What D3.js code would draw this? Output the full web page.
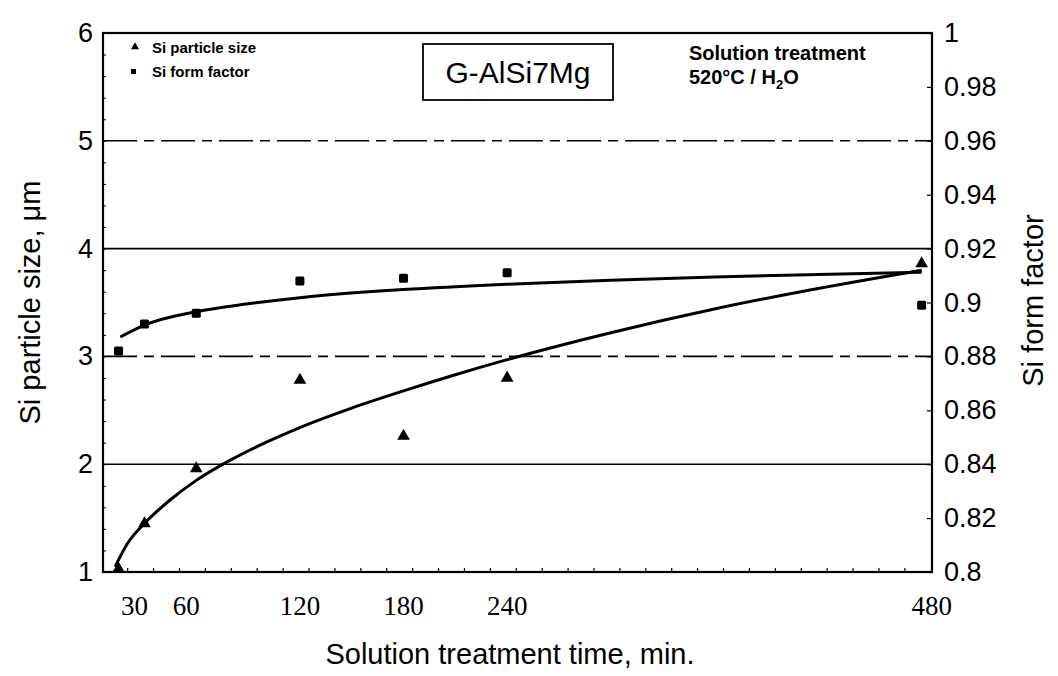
<!DOCTYPE html>
<html>
<head>
<meta charset="utf-8">
<script src="https://cdn.jsdelivr.net/npm/d3@7"></script>
<style>
  body { margin: 0; background: #fff; }
  svg { display: block; }
</style>
</head>
<body>
<div id="chart"></div>
<script>
// measured points
const sizeTimes = [15, 30, 60, 120, 180, 240, 480];
const sizeValues = [1.03, 1.45, 1.96, 2.78, 2.26, 2.8, 3.86];
const formTimes = [15, 30, 60, 120, 180, 240, 480];
const formValues = [0.882, 0.892, 0.896, 0.908, 0.909, 0.911, 0.899];

// fitted trend curves
const sizeFitTimes = [13, 20, 30, 45, 60, 80, 100, 120, 150, 180, 210, 240, 300, 360, 420, 480];
const sizeFitValues = [1.05, 1.26, 1.45, 1.67, 1.85, 2.04, 2.20, 2.34, 2.52, 2.68, 2.83, 2.97, 3.22, 3.44, 3.63, 3.80];
const formFitTimes = [16, 30, 60, 90, 120, 180, 240, 300, 360, 420, 480];
const formFitValues = [0.8872, 0.8916, 0.8966, 0.8995, 0.9018, 0.9048, 0.9068, 0.9083, 0.9095, 0.9104, 0.9112];

const xTicks = [30, 60, 120, 180, 240, 480];
const leftTicks = [1, 2, 3, 4, 5, 6];
const rightTicks = [0.8, 0.82, 0.84, 0.86, 0.88, 0.9, 0.92, 0.94, 0.96, 0.98, 1];
const solidGrid = [2, 4];
const dashedGrid = [3, 5];

const width = 1058, height = 676;
const margin = { top: 33, right: 126, bottom: 104, left: 103 };
const sans = "'Liberation Sans', Arial, sans-serif";
const serif = "'Liberation Serif', 'Times New Roman', serif";

const svg = d3.select("#chart").append("svg")
  .attr("width", width)
  .attr("height", height);

const x = d3.scaleLinear().domain([6, 486]).range([margin.left, width - margin.right]);
const yL = d3.scaleLinear().domain([1, 6]).range([height - margin.bottom, margin.top]);
const yR = d3.scaleLinear().domain([0.8, 1]).range([height - margin.bottom, margin.top]);

const x0 = margin.left, x1 = width - margin.right;
const yTop = margin.top, yBot = height - margin.bottom;

// gridlines
svg.append("g").selectAll("line")
  .data(solidGrid)
  .join("line")
  .attr("x1", x0).attr("x2", x1)
  .attr("y1", d => yL(d)).attr("y2", d => yL(d))
  .attr("stroke", "#000").attr("stroke-width", 1.6);

svg.append("g").selectAll("line")
  .data(dashedGrid)
  .join("line")
  .attr("x1", x0).attr("x2", x1)
  .attr("y1", d => yL(d)).attr("y2", d => yL(d))
  .attr("stroke", "#000").attr("stroke-width", 1.6)
  .attr("stroke-dasharray", "34,7,10,7");

// minor ticks
svg.append("g")
  .attr("transform", `translate(${x0},0)`)
  .call(d3.axisRight(yL).ticks(25).tickSize(3).tickFormat(""))
  .call(g => g.select(".domain").remove())
  .call(g => g.selectAll("line").attr("stroke-width", 1));

svg.append("g")
  .attr("transform", `translate(${x1},0)`)
  .call(d3.axisLeft(yR).tickValues(rightTicks).tickSize(5).tickFormat(""))
  .call(g => g.select(".domain").remove())
  .call(g => g.selectAll("line").attr("stroke-width", 1.2));

svg.append("g")
  .attr("transform", `translate(0,${yBot})`)
  .call(d3.axisTop(x).tickValues(d3.range(20, 480, 15)).tickSize(4).tickFormat(""))
  .call(g => g.select(".domain").remove())
  .call(g => g.selectAll("line").attr("stroke-width", 1.2));

// frame
svg.append("rect")
  .attr("x", x0).attr("y", yTop)
  .attr("width", x1 - x0).attr("height", yBot - yTop)
  .attr("fill", "none").attr("stroke", "#000").attr("stroke-width", 2.2);

// tick labels
svg.append("g").selectAll("text")
  .data(leftTicks)
  .join("text")
  .attr("x", x0 - 10).attr("y", d => yL(d) + 9)
  .attr("text-anchor", "end")
  .style("font-family", sans).style("font-size", "27px")
  .text(d => d);

svg.append("g").selectAll("text")
  .data(rightTicks)
  .join("text")
  .attr("x", x1 + 12).attr("y", d => yR(d) + 9)
  .style("font-family", sans).style("font-size", "27px")
  .text(d => d3.format("~g")(d));

// label nudges follow the hand-lettered original
svg.append("g").selectAll("text")
  .data(xTicks)
  .join("text")
  .attr("x", d => x(d) + (d < 100 ? -10 : d > 300 ? 10 : 0)).attr("y", yBot + 43)
  .attr("text-anchor", "middle")
  .style("font-family", serif).style("font-size", "27px")
  .text(d => d);

// axis titles
svg.append("text")
  .attr("transform", `translate(40,${(yTop + yBot) / 2}) rotate(-90)`)
  .attr("text-anchor", "middle")
  .style("font-family", sans).style("font-size", "29px")
  .text("Si particle size, \u03bcm");

svg.append("text")
  .attr("transform", `translate(1043,${(yTop + yBot) / 2 - 2}) rotate(-90)`)
  .attr("text-anchor", "middle")
  .style("font-family", sans).style("font-size", "29px")
  .text("Si form factor");

svg.append("text")
  .attr("x", 510).attr("y", 664)
  .attr("text-anchor", "middle")
  .style("font-family", sans).style("font-size", "29px")
  .text("Solution treatment time, min.");

// trend curves
const line = d3.line().curve(d3.curveMonotoneX);

svg.append("path")
  .attr("d", line(sizeFitTimes.map((t, i) => [x(t), yL(sizeFitValues[i])])))
  .attr("fill", "none").attr("stroke", "#000").attr("stroke-width", 3);

svg.append("path")
  .attr("d", line(formFitTimes.map((t, i) => [x(t), yR(formFitValues[i])])))
  .attr("fill", "none").attr("stroke", "#000").attr("stroke-width", 3);

// markers
const tri = d3.symbol().type(d3.symbolTriangle);
svg.append("g").selectAll("path")
  .data(sizeTimes.map((t, i) => [t, sizeValues[i]]))
  .join("path")
  .attr("transform", d => `translate(${x(d[0])},${yL(d[1])})`)
  .attr("d", tri.size(70)())
  .attr("fill", "#000");

svg.append("g").selectAll("rect")
  .data(formTimes.map((t, i) => [t, formValues[i]]))
  .join("rect")
  .attr("x", d => x(d[0]) - 4.5).attr("y", d => yR(d[1]) - 4.5)
  .attr("width", 9).attr("height", 9)
  .attr("rx", 1.5)
  .attr("fill", "#000");

// legend
svg.append("path")
  .attr("transform", "translate(135,47)")
  .attr("d", tri.size(28)())
  .attr("fill", "#000");
svg.append("text")
  .attr("x", 152).attr("y", 53)
  .style("font-family", sans).style("font-size", "15px").style("font-weight", "bold")
  .text("Si particle size");

svg.append("rect")
  .attr("x", 131).attr("y", 69).attr("width", 5).attr("height", 5)
  .attr("fill", "#000");
svg.append("text")
  .attr("x", 152).attr("y", 77)
  .style("font-family", sans).style("font-size", "15px").style("font-weight", "bold")
  .text("Si form factor");

// alloy box
svg.append("rect")
  .attr("x", 423).attr("y", 44).attr("width", 190).attr("height", 56)
  .attr("fill", "#fff").attr("stroke", "#000").attr("stroke-width", 1.8);
svg.append("text")
  .attr("x", 518).attr("y", 83)
  .attr("text-anchor", "middle")
  .style("font-family", sans).style("font-size", "30px")
  .text("G-AlSi7Mg");

// treatment note
svg.append("text")
  .attr("x", 689).attr("y", 60)
  .style("font-family", sans).style("font-size", "20px").style("font-weight", "bold")
  .text("Solution treatment");
const note = svg.append("text")
  .attr("x", 689).attr("y", 84)
  .style("font-family", sans).style("font-size", "20px").style("font-weight", "bold");
note.append("tspan").text("520\u00b0C / H");
note.append("tspan").attr("dy", 5).style("font-size", "13px").text("2");
note.append("tspan").attr("dy", -5).text("O");
</script>
</body>
</html>
